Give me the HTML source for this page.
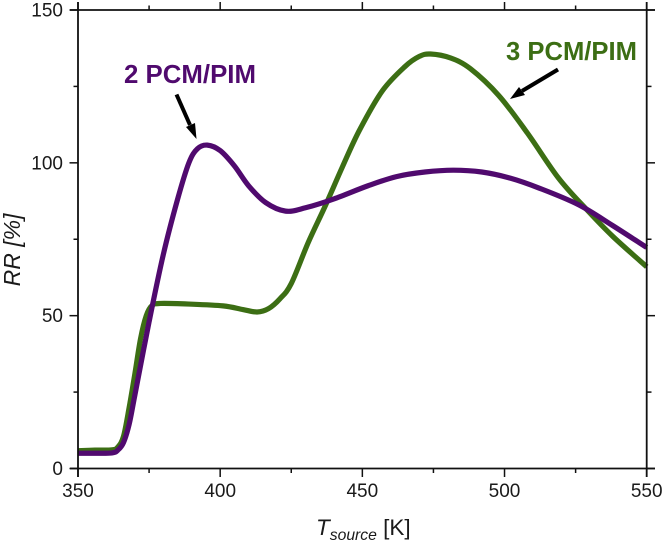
<!DOCTYPE html>
<html>
<head>
<meta charset="utf-8">
<style>
html,body{margin:0;padding:0;background:#fff;}
svg{display:block;font-family:"Liberation Sans",sans-serif;}
</style>
</head>
<body>
<svg id="chart" width="664" height="544" viewBox="0 0 664 544" xmlns="http://www.w3.org/2000/svg">
  <rect width="664" height="544" fill="#ffffff"/>
  <g id="curves"></g>
  <g id="axes"></g>
  <text transform="translate(20,250) rotate(-90)" font-size="23" font-style="italic" text-anchor="middle" fill="#1a1a1a">RR [%]</text>
  <text x="316" y="535" font-size="22.5" fill="#1a1a1a"><tspan font-style="italic">T</tspan><tspan font-style="italic" font-size="15.7" dy="5">source</tspan><tspan dy="-5"> [K]</tspan></text>
  <text x="124" y="83" font-size="25.6" font-weight="bold" fill="#500a6e" textLength="132" lengthAdjust="spacingAndGlyphs">2 PCM/PIM</text>
  <text x="506" y="60" font-size="25.6" font-weight="bold" fill="#3c6e14" textLength="131" lengthAdjust="spacingAndGlyphs">3 PCM/PIM</text>
  <g>
    <line x1="176.500" y1="94.500" x2="190" y2="125" stroke="#000" stroke-width="4"/>
    <polygon points="196.500,139 186,127 195,123" fill="#000"/>
  </g>
  <g>
    <line x1="558" y1="69.500" x2="522" y2="91" stroke="#000" stroke-width="4"/>
    <polygon points="510,99 519,87 525,95" fill="#000"/>
  </g>
</svg>
<script>
var xTicks = [350, 400, 450, 500, 550];
var xMinorTicks = [375, 425, 475, 525];
var yTicks = [0, 50, 100, 150];
var yMinorTicks = [25, 75, 125];
var temperatures2 = [350, 356, 362, 364, 366, 368, 370, 375, 380, 385, 389, 392, 395.5, 400, 405, 410, 416, 423, 430, 440, 452, 462, 472, 482, 492, 502, 512, 526, 538, 550];
var series2Pcm = [5, 5, 5.1, 6, 8.5, 14.5, 24, 48, 70, 88, 100, 104.6, 105.8, 104, 99, 92.5, 87, 84.2, 85.3, 88.2, 92.5, 95.5, 97, 97.6, 97, 95, 91.8, 86.3, 79.5, 72.3];
var temperatures3 = [350, 356, 362, 364, 366, 368, 370, 372, 374, 376, 379, 389, 401, 408, 413, 417, 421, 425, 431, 437, 443, 449, 457, 465, 470, 474, 481, 488, 498, 508, 519, 529, 538, 550];
var series3Pcm = [5.8, 6, 6.1, 7, 10.5, 20, 31, 42.5, 50, 53.3, 54, 53.8, 53.2, 52, 51.2, 52.3, 55.5, 60.5, 74, 86, 98.7, 110.7, 123.5, 131.5, 134.8, 135.6, 134.3, 130.8, 122, 109.8, 95, 84.6, 76, 66];

var X0 = 78, X1 = 646.7, Y0 = 468.5, Y1 = 10;
var SVGNS = 'http://www.w3.org/2000/svg';

function sx(v) { return X0 + (v - 350) / 200 * (X1 - X0); }
function sy(v) { return Y0 - v / 150 * (Y0 - Y1); }

function smoothPath(xs, ys) {
  var pts = xs.map(function (x, i) { return [sx(x), sy(ys[i])]; });
  var d = 'M' + pts[0][0].toFixed(2) + ' ' + pts[0][1].toFixed(2);
  for (var i = 0; i < pts.length - 1; i++) {
    var p0 = pts[Math.max(i - 1, 0)];
    var p1 = pts[i];
    var p2 = pts[i + 1];
    var p3 = pts[Math.min(i + 2, pts.length - 1)];
    var c1x = p1[0] + (p2[0] - p0[0]) / 6;
    var c1y = p1[1] + (p2[1] - p0[1]) / 6;
    var c2x = p2[0] - (p3[0] - p1[0]) / 6;
    var c2y = p2[1] - (p3[1] - p1[1]) / 6;
    d += 'C' + c1x.toFixed(2) + ' ' + c1y.toFixed(2) + ' ' + c2x.toFixed(2) + ' ' + c2y.toFixed(2) + ' ' + p2[0].toFixed(2) + ' ' + p2[1].toFixed(2);
  }
  return d;
}

function makeLine(parent, x1, y1, x2, y2, w) {
  var el = document.createElementNS(SVGNS, 'line');
  el.setAttribute('x1', x1);
  el.setAttribute('y1', y1);
  el.setAttribute('x2', x2);
  el.setAttribute('y2', y2);
  el.setAttribute('stroke', '#111');
  el.setAttribute('stroke-width', w);
  parent.appendChild(el);
  return el;
}

function makeLabel(parent, x, y, anchor, str) {
  var el = document.createElementNS(SVGNS, 'text');
  el.setAttribute('x', x);
  el.setAttribute('y', y);
  el.setAttribute('text-anchor', anchor);
  el.setAttribute('font-size', '19');
  el.setAttribute('fill', '#1a1a1a');
  el.textContent = str;
  parent.appendChild(el);
  return el;
}

var curves = document.getElementById('curves');
var axes = document.getElementById('axes');

var curve3 = document.createElementNS(SVGNS, 'path');


curve3.setAttribute('d', smoothPath(temperatures3, series3Pcm));
curve3.setAttribute('fill', 'none');
curve3.setAttribute('stroke', '#3c6e14');
curve3.setAttribute('stroke-width', '5.2');
curves.appendChild(curve3);

var curve2 = document.createElementNS(SVGNS, 'path');


curve2.setAttribute('d', smoothPath(temperatures2, series2Pcm));
curve2.setAttribute('fill', 'none');
curve2.setAttribute('stroke', '#500a6e');
curve2.setAttribute('stroke-width', '5.2');
curves.appendChild(curve2);

var bottomAxis = makeLine(axes, 70, Y0, 655, Y0, 1.8);


var topAxis = makeLine(axes, 70, Y1, 655, Y1, 1.8);


var leftAxis = makeLine(axes, X0, 2, X0, 477, 1.8);


var rightAxis = makeLine(axes, X1, 2, X1, 477, 1.8);



xTicks.forEach(function (t) {
  var bottom = makeLine(axes, sx(t), Y0, sx(t), 477, 1.5);
  
  
  var top = makeLine(axes, sx(t), Y1, sx(t), 2, 1.5);
  
  
  var label = makeLabel(axes, sx(t), 497, 'middle', String(t));
  
  
});

xMinorTicks.forEach(function (t) {
  var bottom = makeLine(axes, sx(t), Y0, sx(t), 473, 1.5);
  
  
  var top = makeLine(axes, sx(t), Y1, sx(t), 5.500, 1.5);
  
  
});

yTicks.forEach(function (t) {
  var left = makeLine(axes, X0, sy(t), 69.500, sy(t), 1.5);
  
  
  var right = makeLine(axes, X1, sy(t), 655, sy(t), 1.5);
  
  
  var label = makeLabel(axes, 63, sy(t) + 6.5, 'end', String(t));
  
  
});

yMinorTicks.forEach(function (t) {
  var left = makeLine(axes, X0, sy(t), 73.500, sy(t), 1.5);
  
  
  var right = makeLine(axes, X1, sy(t), 651.500, sy(t), 1.5);
  
  
});
</script>
</body>
</html>
